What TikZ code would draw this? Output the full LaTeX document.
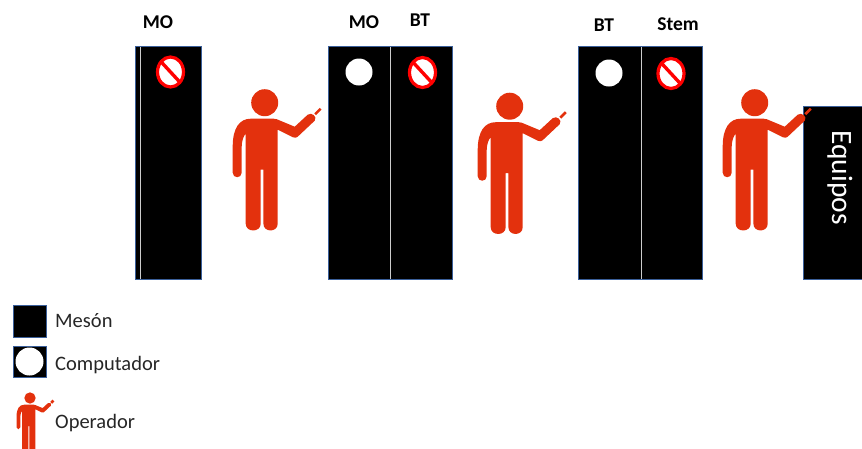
\documentclass[tikz,border=0pt]{standalone}
\usepackage{fontspec}
\setmainfont{Carlito}
\definecolor{opred}{HTML}{E3310D}
\definecolor{edge}{HTML}{3A5F9A}
\tikzset{
  x=1pt,y=-1pt,
  mesa/.style={fill=black,draw=edge,line width=1pt},
  divider/.style={draw=white!80!black,line width=.8pt},
  pc/.style={fill=white,draw=none},
  head/.style={font=\bfseries\fontsize{19.5}{21}\selectfont,inner sep=0pt},
  legend/.style={font=\fontsize{20.5}{23}\selectfont,text=black!85,anchor=west,inner sep=0pt},
  pics/operador/.style={code={
    \fill[opred] (0,0) circle[radius=13.5];
    \fill[opred,line join=round]
      (-14,16) .. controls (-25,16) and (-32,25) .. (-32,44)
      -- (-32,70) .. controls (-32,76) and (-23,76) .. (-23,70)
      -- (-23,44) .. controls (-23,38) and (-21,33) .. (-19,31)
      -- (-19,121) .. controls (-19,130) and (-4,130) .. (-4,121)
      -- (-4,67) -- (-1.3,67) -- (-1.3,121)
      .. controls (-1.3,130) and (13,130) .. (13,121)
      -- (13,27) -- (28,34.5) .. controls (30,35.5) and (32,35) .. (33,34)
      -- (50,18) .. controls (53,14) and (47,9) .. (43,12)
      -- (30,24) -- (12,16.5) .. controls (11,16) and (10,16) .. (9,16) -- cycle;
    \draw[opred,line width=2.6pt] (50.5,11.5) -- (56,6);
  }}
}
\newcommand{\forbid}[2]{%
  \fill[white] (#1,#2) ellipse[x radius=13,y radius=15];
  \begin{scope}
    \clip (#1,#2) ellipse[x radius=13,y radius=15];
    \draw[red,line width=3.4pt] (#1-12,#2-13) -- (#1+12,#2+13);
  \end{scope}
  \draw[red,line width=3.2pt] (#1,#2) ellipse[x radius=13,y radius=15];
}
\begin{document}
\begin{tikzpicture}
\useasboundingbox (0,0) rectangle (862,448);
% tables
\draw[mesa] (135.5,46.5) rectangle (201.5,279);
\draw[divider] (140.5,47) -- (140.5,278.5);
\draw[mesa] (328,46.5) rectangle (452.5,279);
\draw[divider] (390.5,47) -- (390.5,278.5);
\draw[mesa] (578,46.5) rectangle (702.5,279);
\draw[divider] (641,47) -- (641,278.5);
\draw[mesa] (803,106.5) rectangle (864,279);
% computers and forbidden marks
\forbid{170.5}{72}
\fill[pc] (359,72) circle[radius=13.5];
\forbid{422.5}{72.5}
\fill[pc] (609,73) circle[radius=13.5];
\forbid{671}{73.5}
% labels
\node[head] (l1) at (158,22) {MO};
\node[head] (l2) at (364,22) {MO};
\node[head] (l3) at (420,20) {BT};
\node[head] (l4) at (604,25) {BT};
\node[head] (l5) at (678,24) {Stem};
\node[rotate=-90,text=white,font=\fontsize{29.5}{31}\selectfont,inner sep=0pt] (eq) at (840,177.5) {Equipos};
% operators
\pic at (264.7,102.7) {operador};
\pic at (509.7,106.2) {operador};
\pic at (754.7,102.7) {operador};
% legend
\draw[mesa] (13,305.5) rectangle (46,337);
\draw[mesa] (13,346) rectangle (46,377);
\fill[pc] (29.5,361.5) circle[radius=14];
\node[legend] (m) at (55,321) {Mesón};
\node[legend] (c) at (55,365) {Computador};
\node[legend] (o) at (55,423) {Operador};
\begin{scope}
\clip (0,0) rectangle (862,448);
\pic[scale=.42] at (30,398) {operador};
\end{scope}
\end{tikzpicture}
\end{document}
